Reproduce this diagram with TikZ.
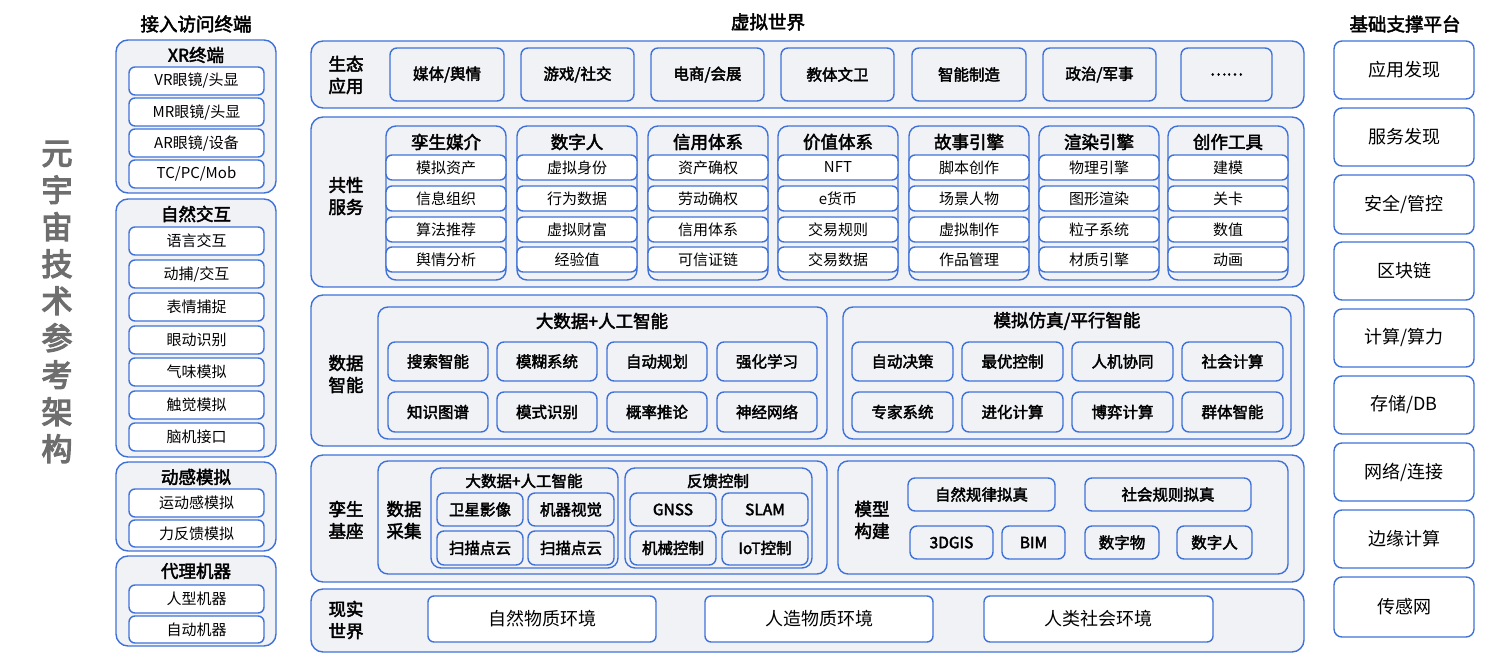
\documentclass[tikz,border=0pt]{standalone}
\usepackage{fontspec}
\setmainfont{Noto Sans CJK SC}
\newfontfamily\cjkbold{Noto Sans CJK SC}[FakeBold=2.5]
\newfontfamily\cjkheavy{Noto Sans CJK SC}[FakeBold=4]
\usetikzlibrary{positioning}

\definecolor{archblue}{HTML}{3F72D9}
\definecolor{panelgray}{HTML}{F1F2F6}
\definecolor{titlegray}{HTML}{6E6E6E}

\tikzset{
  base/.style = {draw=archblue, line width=1.4pt, inner sep=0pt, outer sep=0pt, align=center},
  panel/.style = {base, fill=panelgray, rounded corners=12pt},
  group/.style = {base, fill=panelgray, rounded corners=10pt},
  item/.style = {base, fill=white, rounded corners=6pt, font=\fontsize{15}{17}\selectfont},
  gitem/.style = {base, fill=panelgray, rounded corners=7pt, font=\cjkbold\fontsize{15.5}{17}\selectfont},
  side/.style = {base, fill=white, rounded corners=8pt, font=\fontsize{18}{20}\selectfont},
  label/.style = {font=\cjkbold\fontsize{17.5}{22}\selectfont, align=center, inner sep=0pt},
  head/.style = {font=\cjkbold\fontsize{18.5}{22}\selectfont, inner sep=0pt},
}

% box from corner (x1,y1) to (x2,y2), pixel units
\newcommand\cell[7]{%
  \node[#1, minimum width={(#4-#2)*1pt}, minimum height={(#5-#3)*1pt}]
    (#7) at ({(#2+#4)/2},{(#3+#5)/2}) {#6};}

\begin{document}
\begin{tikzpicture}[x=1pt, y=-1pt]

  \useasboundingbox (0,0) rectangle (1512,668);

  \node[font=\cjkheavy\fontsize{31}{37}\selectfont, text=titlegray, align=center, inner sep=0pt]
    (title) at (57,302) {元\\宇\\宙\\技\\术\\参\\考\\架\\构};

  % access terminals
  \node[head] (access-label) at (196,24) {接入访问终端};
  \cell{panel}{116}{40}{276}{193}{}{xr}
  \node[label] (xr-label) at (196,55) {XR终端};
  \cell{item}{129}{67}{264}{95}{VR眼镜/头显}{vr}
  \cell{item}{129}{98}{264}{126}{MR眼镜/头显}{mr}
  \cell{item}{129}{129}{264}{157}{AR眼镜/设备}{ar}
  \cell{item}{129}{160}{264}{188}{TC/PC/Mob}{tc}

  \cell{panel}{116}{199}{276}{457}{}{nat}
  \node[label] (nat-label) at (196,214) {自然交互};
  \cell{item}{129}{227}{264}{255}{语言交互}{nat1}
  \cell{item}{129}{260}{264}{288}{动捕/交互}{nat2}
  \cell{item}{129}{293}{264}{321}{表情捕捉}{nat3}
  \cell{item}{129}{326}{264}{354}{眼动识别}{nat4}
  \cell{item}{129}{358}{264}{386}{气味模拟}{nat5}
  \cell{item}{129}{391}{264}{419}{触觉模拟}{nat6}
  \cell{item}{129}{423}{264}{451}{脑机接口}{nat7}

  \cell{panel}{116}{462}{276}{551}{}{motion}
  \node[label] (motion-label) at (196,477) {动感模拟};
  \cell{item}{129}{489}{264}{517}{运动感模拟}{motion1}
  \cell{item}{129}{520}{264}{547}{力反馈模拟}{motion2}

  \cell{panel}{116}{556}{276}{646}{}{agent}
  \node[label] (agent-label) at (196,571) {代理机器};
  \cell{item}{129}{585}{264}{613}{人型机器}{agent1}
  \cell{item}{129}{616}{264}{643}{自动机器}{agent2}

  % virtual world
  \node[head] (virtual-label) at (768,22) {虚拟世界};

  \cell{panel}{311}{41}{1304}{108}{}{eco}
  \node[label] (eco-label) at (346,75) {生态\\应用};
  \cell{gitem}{390}{48}{504}{101}{媒体/舆情}{eco1}
  \cell{gitem}{521}{48}{634}{101}{游戏/社交}{eco2}
  \cell{gitem}{651}{48}{764}{101}{电商/会展}{eco3}
  \cell{gitem}{781}{48}{894}{101}{教体文卫}{eco4}
  \cell{gitem}{912}{48}{1026}{101}{智能制造}{eco5}
  \cell{gitem}{1043}{48}{1156}{101}{政治/军事}{eco6}
  \cell{gitem}{1181}{48}{1272}{101}{……}{eco7}

  \cell{panel}{311}{117}{1304}{287}{}{common}
  \node[label] (common-label) at (346,196) {共性\\服务};
  \foreach \gx/\gname/\ga/\gb/\gc/\gd [count=\i] in {
      386/孪生媒介/模拟资产/信息组织/算法推荐/舆情分析,
      517/数字人/虚拟身份/行为数据/虚拟财富/经验值,
      648/信用体系/资产确权/劳动确权/信用体系/可信证链,
      778/价值体系/NFT/e货币/交易规则/交易数据,
      909/故事引擎/脚本创作/场景人物/虚拟制作/作品管理,
      1039/渲染引擎/物理引擎/图形渲染/粒子系统/材质引擎,
      1168/创作工具/建模/关卡/数值/动画} {
    \cell{group}{\gx}{126}{\gx+120}{280}{}{svc\i}
    \node[label] (svc\i-label) at (\gx+60,142) {\gname};
    \cell{item}{\gx+10}{155}{\gx+110}{180}{\ga}{svc\i-a}
    \cell{item}{\gx+10}{186}{\gx+110}{211}{\gb}{svc\i-b}
    \cell{item}{\gx+10}{217}{\gx+110}{242}{\gc}{svc\i-c}
    \cell{item}{\gx+10}{247}{\gx+110}{272}{\gd}{svc\i-d}
  }

  \cell{panel}{311}{295}{1304}{446}{}{data}
  \node[label] (data-label) at (346,374) {数据\\智能};
  \cell{group}{378}{307}{827}{439}{}{ai}
  \node[label] (ai-label) at (602,321) {大数据+人工智能};
  \foreach \cx/\ta/\tb [count=\i] in {388/搜索智能/知识图谱, 497/模糊系统/模式识别,
      607/自动规划/概率推论, 717/强化学习/神经网络} {
    \cell{gitem}{\cx}{342}{\cx+100}{381}{\ta}{ai\i-a}
    \cell{gitem}{\cx}{392}{\cx+100}{432}{\tb}{ai\i-b}
  }
  \cell{group}{843}{307}{1291}{439}{}{sim}
  \node[label] (sim-label) at (1067,321) {模拟仿真/平行智能};
  \foreach \cx/\ta/\tb [count=\i] in {852/自动决策/专家系统, 962/最优控制/进化计算,
      1072/人机协同/博弈计算, 1182/社会计算/群体智能} {
    \cell{gitem}{\cx}{342}{\cx+101}{381}{\ta}{sim\i-a}
    \cell{gitem}{\cx}{392}{\cx+101}{432}{\tb}{sim\i-b}
  }

  \cell{panel}{311}{455}{1304}{582}{}{twin}
  \node[label] (twin-label) at (346,520) {孪生\\基座};
  \cell{group}{378}{461}{827}{574}{}{collect}
  \node[label] (collect-label) at (404,520) {数据\\采集};
  \cell{group}{431}{468}{618}{568}{}{bigdata}
  \node[label, font=\cjkbold\fontsize{15.5}{18}\selectfont] (bigdata-label) at (524,481) {大数据+人工智能};
  \cell{gitem}{437}{493}{523}{526}{卫星影像}{sat}
  \cell{gitem}{528}{493}{614}{526}{机器视觉}{vision}
  \cell{gitem}{437}{531}{523}{565}{扫描点云}{scan1}
  \cell{gitem}{528}{531}{614}{565}{扫描点云}{scan2}
  \cell{group}{625}{468}{812}{568}{}{feedback}
  \node[label, font=\cjkbold\fontsize{15.5}{18}\selectfont] (feedback-label) at (718,481) {反馈控制};
  \cell{gitem}{630}{493}{716}{526}{GNSS}{gnss}
  \cell{gitem}{722}{493}{808}{526}{SLAM}{slam}
  \cell{gitem}{630}{531}{716}{565}{机械控制}{mech}
  \cell{gitem}{722}{531}{808}{565}{IoT控制}{iot}

  \cell{group}{838}{461}{1288}{574}{}{model}
  \node[label] (model-label) at (872,520) {模型\\构建};
  \cell{gitem}{908}{478}{1055}{511}{自然规律拟真}{natlaw}
  \cell{gitem}{1085}{478}{1251}{511}{社会规则拟真}{soclaw}
  \cell{gitem}{910}{526}{993}{559}{3DGIS}{gis}
  \cell{gitem}{1002}{526}{1065}{559}{BIM}{bim}
  \cell{gitem}{1085}{526}{1159}{559}{数字物}{dobj}
  \cell{gitem}{1177}{526}{1252}{559}{数字人}{dhuman}

  \cell{panel}{311}{589}{1304}{652}{}{real}
  \node[label] (real-label) at (346,620) {现实\\世界};
  \cell{item}{428}{596}{656}{642}{\fontsize{18}{20}\selectfont 自然物质环境}{real1}
  \cell{item}{705}{596}{933}{642}{\fontsize{18}{20}\selectfont 人造物质环境}{real2}
  \cell{item}{984}{596}{1213}{642}{\fontsize{18}{20}\selectfont 人类社会环境}{real3}

  % support platform
  \node[head] (support-label) at (1405,24) {基础支撑平台};
  \foreach \ya/\yb/\txt [count=\i] in {41/99/应用发现, 108/166/服务发现, 175/234/{安全/管控},
      242/300/区块链, 309/367/{计算/算力}, 376/434/{存储/DB}, 443/501/{网络/连接},
      510/568/边缘计算, 577/637/传感网} {
    \cell{side}{1334}{\ya}{1474}{\yb}{\txt}{sup\i}
  }

\end{tikzpicture}
\end{document}
